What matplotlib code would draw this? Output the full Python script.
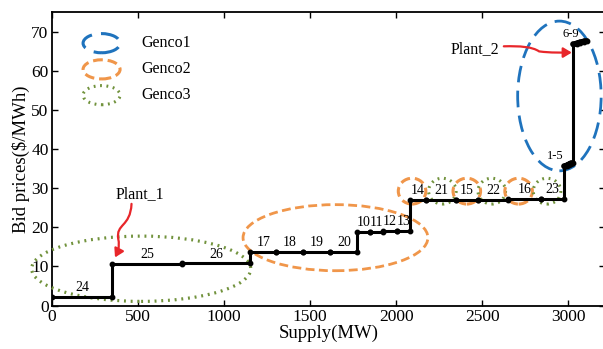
import matplotlib
matplotlib.use("Agg")
import matplotlib.pyplot as plt
from matplotlib.patches import Ellipse, FancyArrowPatch
from matplotlib.path import Path

plt.rcParams['font.family'] = ['Liberation Serif', 'DejaVu Serif']

# unit blocks: label, start supply, end supply, bid price
unit_labels = ['24', '25', '26', '17', '18', '19', '20', '10', '11', '12', '13',
               '14', '21', '15', '22', '16', '23']
unit_start = [0, 348, 754, 1153, 1304, 1459, 1617, 1774, 1846, 1923, 2004,
              2078, 2175, 2345, 2474, 2650, 2842]
unit_end = [348, 754, 1153, 1304, 1459, 1617, 1774, 1846, 1923, 2004, 2078,
            2175, 2345, 2474, 2650, 2842, 2972]
unit_price = [2.3, 10.7, 10.8, 13.7, 13.7, 13.8, 13.8, 18.8, 18.9, 19.0, 19.1,
              27.0, 27.0, 27.1, 27.1, 27.2, 27.3]

# Genco1 units 1-5 and 6-9
g1a_start = [2972, 2983, 2994, 3005, 3016]
g1a_end = [2983, 2994, 3005, 3016, 3027]
g1a_price = [35.6, 35.8, 36.0, 36.2, 36.4]
g1b_start = [3027, 3048, 3069, 3090]
g1b_end = [3048, 3069, 3090, 3111]
g1b_price = [67.0, 67.2, 67.4, 67.6]

BLUE = '#1f73bd'
ORANGE = '#f0964a'
GREEN = '#71923c'

fig = plt.figure(figsize=(6.03, 3.49), dpi=100)
ax = fig.add_axes([52/603, 43.5/349, 552.5/603, 293.2/349])

xs, ys = [], []
for s, e, p in zip(unit_start + g1a_start + g1b_start,
                   unit_end + g1a_end + g1b_end,
                   unit_price + g1a_price + g1b_price):
    xs += [s, e]
    ys += [p, p]
ax.plot(xs, ys, color='black', lw=2.2, zorder=5, solid_joinstyle='miter')
ax.plot(xs, ys, 'o', color='black', ms=3.2, zorder=6)
# thicker Genco1 blocks
for st, en, pr in [(g1a_start, g1a_end, g1a_price), (g1b_start, g1b_end, g1b_price)]:
    xx, yy = [], []
    for s, e, p in zip(st, en, pr):
        xx += [s, e]
        yy += [p, p]
    ax.plot(xx, yy, color='black', lw=4, zorder=6, solid_capstyle='round')

# unit labels
for lab, s, e, p in zip(unit_labels, unit_start, unit_end, unit_price):
    ax.text((s + e) / 2, p + 0.7, lab, ha='center', va='bottom', fontsize=10, zorder=7)
ax.text(2925, 38.3, '1-5', ha='center', va='center', fontsize=9)
ax.text(3016, 69.4, '6-9', ha='center', va='center', fontsize=9)

# ellipses
ax.add_patch(Ellipse((518, 9.4), 1273, 16.7, fill=False, ec=GREEN, lw=2.3,
                     ls=(0, (0.6, 1.5)), clip_on=False, zorder=4))
ax.add_patch(Ellipse((1647, 17.35), 1074, 16.9, fill=False, ec=ORANGE, lw=2,
                     ls=(0, (3.2, 1.6)), zorder=4))
ax.add_patch(Ellipse((2948, 53.6), 485, 38.3, fill=False, ec=BLUE, lw=2,
                     ls=(0, (6, 3)), zorder=4))
small_x = [2092, 2268, 2410, 2555, 2711, 2876]
small_c = [ORANGE, GREEN, ORANGE, GREEN, ORANGE, GREEN]
for cx, c in zip(small_x, small_c):
    if c == ORANGE:
        ls = (0, (3.2, 1.6))
    else:
        ls = (0, (0.6, 1.5))
    ax.add_patch(Ellipse((cx, 29.25), 160, 6.6, fill=False, ec=c, lw=2.2, ls=ls, zorder=4))

# legend (manual)
leg_names = ['Genco1', 'Genco2', 'Genco3']
leg_cols = [BLUE, ORANGE, GREEN]
leg_ls = [(0, (6, 3)), (0, (3.2, 1.6)), (0, (0.6, 1.5))]
leg_y = [67.1, 60.4, 53.8]
for n, c, l, y in zip(leg_names, leg_cols, leg_ls, leg_y):
    ax.add_patch(Ellipse((288, y), 215, 4.9, fill=False, ec=c, lw=2.2, ls=l))
    ax.text(522, y, n, ha='left', va='center', fontsize=11.5)

# Plant annotations
ax.text(510, 28.6, 'Plant_1', ha='center', va='center', fontsize=11.5)
p1 = Path([(462, 26.0), (455, 20), (370, 21), (385, 17), (395, 15), (380, 13.5), (366, 12.3)],
          [Path.MOVETO, Path.CURVE4, Path.CURVE4, Path.CURVE4, Path.CURVE4, Path.CURVE4, Path.CURVE4])
ax.add_patch(FancyArrowPatch(path=p1, arrowstyle='-|>,head_length=5,head_width=3',
                             color='#e8262a', lw=1.6, zorder=8))
ax.text(2600, 65.6, 'Plant_2', ha='right', va='center', fontsize=11.5)
p2 = Path([(2625, 66.3), (2720, 66.4), (2790, 66.2), (2830, 65.0), (2900, 64.6), (2960, 64.7), (3020, 64.7)],
          [Path.MOVETO, Path.CURVE4, Path.CURVE4, Path.CURVE4, Path.CURVE4, Path.CURVE4, Path.CURVE4])
ax.add_patch(FancyArrowPatch(path=p2, arrowstyle='-|>,head_length=5,head_width=3',
                             color='#e8262a', lw=1.6, zorder=8))

ax.set_xlim(0, 3210)
ax.set_ylim(0, 75)
ax.set_xticks([0, 500, 1000, 1500, 2000, 2500, 3000])
ax.set_yticks([0, 10, 20, 30, 40, 50, 60, 70])
ax.tick_params(direction='in', top=True, right=True, length=4, width=1, labelsize=12.5, pad=2.5)
for sp in ax.spines.values():
    sp.set_linewidth(1.3)
ax.set_xlabel('Supply(MW)', fontsize=13.5, labelpad=0)
ax.set_ylabel('Bid prices($/MWh)', fontsize=13.5, labelpad=1)

fig.savefig('out.png', dpi=100)
